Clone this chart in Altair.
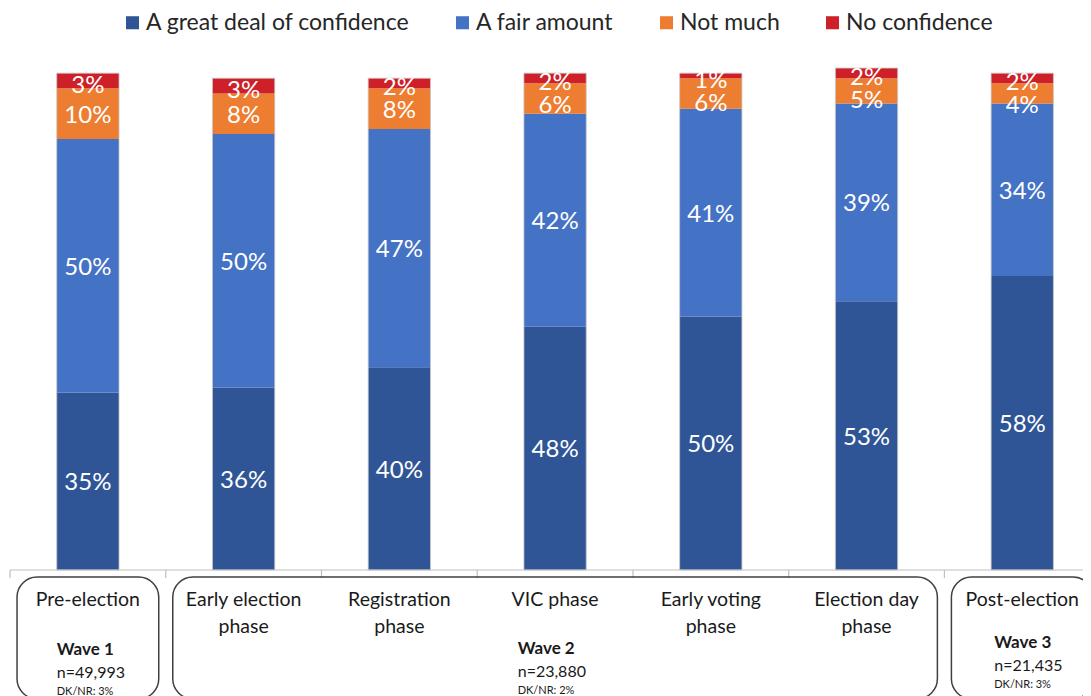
import altair as alt
import pandas as pd

# ---------------- data ----------------
categories = ["Pre-election", "Early election\nphase", "Registration\nphase", "VIC phase",
              "Early voting\nphase", "Election day\nphase", "Post-election"]
series_names = ["A great deal of confidence", "A fair amount", "Not much", "No confidence"]
great_deal = [35, 36, 40, 48, 50, 53, 58]
fair_amount = [50, 50, 47, 42, 41, 39, 34]
not_much = [10, 8, 8, 6, 6, 5, 4]
no_confidence = [3, 3, 2, 2, 1, 2, 2]
colors = ["#2F5597", "#4472C4", "#ED7D31", "#CE2029"]

wave_names = ["Wave 1", "Wave 2", "Wave 3"]
wave_n = ["n=49,993", "n=23,880", "n=21,435"]
wave_dk = ["DK/NR: 3%", "DK/NR: 2%", "DK/NR: 3%"]
wave_start = [0, 1, 6]   # first category index of each wave group
wave_end = [1, 6, 7]     # end (exclusive) category index

# ---------------- layout constants ----------------
FONT = "Lato"
X_MIN, X_MAX = -0.013, 6.89
Y_MIN, Y_MAX = -0.2485, 1.0
PLOT_H = 633
PX = PLOT_H / (Y_MAX - Y_MIN)          # pixels per unit of y
BAR_HALF = 0.2
BOX_INSET = 0.045
BOX_TOP, BOX_BOTTOM = -0.014, -0.254
CAT_LABEL_Y = -0.041
wave_label_x = [0.30, 3.26, 6.32]
wave_label_y = [-0.157, -0.155, -0.143]

# ---------------- tables ----------------
rows = []
totals = []
for i, cat in enumerate(categories):
    base = 0
    seg = []
    for k, (s, vals) in enumerate(zip(series_names, [great_deal, fair_amount, not_much, no_confidence])):
        v = vals[i]
        seg.append(dict(cat=cat, idx=i, series=s, order=k, value=v,
                        y0=base / 100, y1=(base + v) / 100, ym=(base + v / 2) / 100,
                        xl=i + 0.5 - BAR_HALF, xr=i + 0.5 + BAR_HALF, xc=i + 0.5,
                        label=f"{v}%"))
        base += v
    totals.append(dict(xl=i + 0.5 - BAR_HALF, xr=i + 0.5 + BAR_HALF, top=base / 100, bottom=0.0))
    # label placement (nudge small top labels so they stay readable, like the source)
    seg[0]["ly"] = seg[0]["ym"] - 2 / PX
    seg[1]["ly"] = seg[1]["ym"] - 2 / PX
    seg[3]["ly"] = seg[3]["ym"] - 5 / PX
    seg[2]["ly"] = min(seg[2]["ym"] - 2 / PX, seg[3]["ly"] - 23 / PX)
    rows.extend(seg)
bars_df = pd.DataFrame(rows)
tot_df = pd.DataFrame(totals)

cat_df = pd.DataFrame({"cat": categories, "xc": [i + 0.5 for i in range(len(categories))]})
tick_df = pd.DataFrame({"x": list(range(len(categories)))})
box_df = pd.DataFrame({"x0": [s + BOX_INSET for s in wave_start],
                       "x1": [e - BOX_INSET for e in wave_end]})
wave_df = pd.DataFrame({"name": wave_names, "n": wave_n, "dk": wave_dk,
                        "x": wave_label_x, "y": wave_label_y})

xs = alt.Scale(domain=[X_MIN, X_MAX], nice=False, zero=False)
ys = alt.Scale(domain=[Y_MIN, Y_MAX], nice=False, zero=False)

bars = alt.Chart(bars_df).mark_bar().encode(
    x=alt.X("xl:Q", scale=xs, axis=None),
    x2="xr:Q",
    y=alt.Y("y0:Q", scale=ys, axis=None),
    y2="y1:Q",
    color=alt.Color("series:N", sort=series_names,
                    scale=alt.Scale(domain=series_names, range=colors),
                    legend=alt.Legend(title=None, orient="none", direction="horizontal",
                                      legendX=113, legendY=-52, padding=0,
                                      symbolType="square", symbolSize=170, symbolStrokeWidth=0,
                                      labelFont=FONT, labelFontSize=23, labelColor="#262626",
                                      labelLimit=500, labelOffset=2, columnPadding=41)),
)

outline = alt.Chart(tot_df).mark_rect(fillOpacity=0, stroke="#C8C8C8", strokeWidth=0.8).encode(
    x=alt.X("xl:Q", scale=xs), x2="xr:Q",
    y=alt.Y("top:Q", scale=ys), y2="bottom:Q"
)

bar_labels = alt.Chart(bars_df).mark_text(font=FONT, fontSize=24, color="white",
                                          baseline="middle", align="center").encode(
    x=alt.X("xc:Q", scale=xs),
    y=alt.Y("ly:Q", scale=ys),
    text="label:N",
)

baseline = alt.Chart(pd.DataFrame({"a": [0]})).mark_rule(color="#BFBFBF", strokeWidth=1.2).encode(
    x=alt.datum(0), x2=alt.datum(X_MAX), y=alt.datum(0)
)

ticks = alt.Chart(tick_df).mark_rule(color="#BFBFBF", strokeWidth=1.2).encode(
    x=alt.X("x:Q", scale=xs), y=alt.datum(0), y2=alt.datum(-0.016)
)

boxes = alt.Chart(box_df).mark_rect(cornerRadius=20, fill="white", fillOpacity=0,
                                    stroke="#404040", strokeWidth=1.5).encode(
    x=alt.X("x0:Q", scale=xs), x2="x1:Q",
    y=alt.datum(BOX_TOP), y2=alt.datum(BOX_BOTTOM)
)

cat_labels = alt.Chart(cat_df).mark_text(font=FONT, fontSize=19.5, color="#1a1a1a",
                                         baseline="top", align="center",
                                         lineBreak="\n", lineHeight=27).encode(
    x=alt.X("xc:Q", scale=xs), y=alt.datum(CAT_LABEL_Y), text="cat:N"
)

wave_title = alt.Chart(wave_df).mark_text(font=FONT, fontSize=17, fontWeight="bold",
                                          color="#1a1a1a", align="left", baseline="middle").encode(
    x=alt.X("x:Q", scale=xs), y=alt.Y("y:Q", scale=ys), text="name:N"
)
wave_nl = alt.Chart(wave_df).mark_text(font=FONT, fontSize=16, color="#1a1a1a",
                                       align="left", baseline="middle", dy=23).encode(
    x=alt.X("x:Q", scale=xs), y=alt.Y("y:Q", scale=ys), text="n:N"
)
wave_dkl = alt.Chart(wave_df).mark_text(font=FONT, fontSize=11, color="#1a1a1a",
                                        align="left", baseline="middle", dy=42).encode(
    x=alt.X("x:Q", scale=xs), y=alt.Y("y:Q", scale=ys), text="dk:N"
)

chart = alt.layer(bars, outline, bar_labels, baseline, ticks, boxes, cat_labels,
                  wave_title, wave_nl, wave_dkl).properties(
    width=1075, height=PLOT_H,
    autosize=alt.AutoSizeParams(type="none"),
    padding={"left": 0, "top": 55, "right": 0, "bottom": 0},
    background="white",
).configure_view(stroke=None)

chart.save("out.html", embed_options={"renderer": "svg", "actions": False})
